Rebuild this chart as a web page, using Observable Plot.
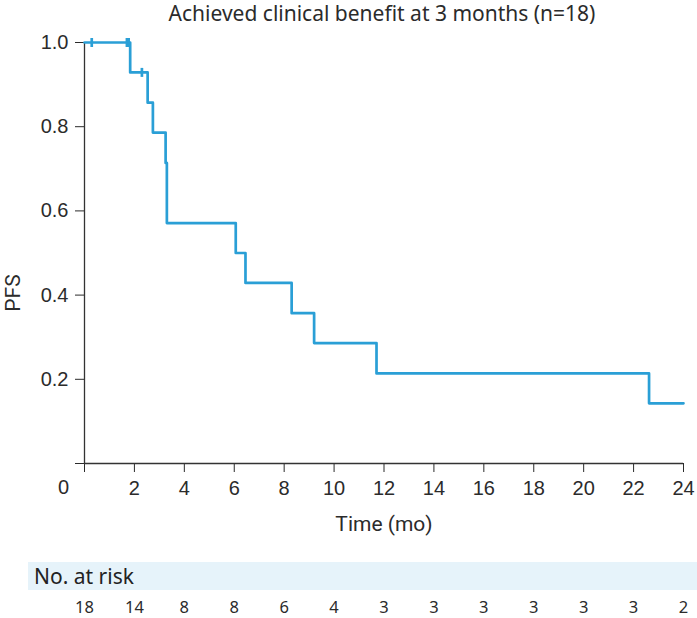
<!DOCTYPE html>
<html><head><meta charset="utf-8">
<script src="https://cdn.jsdelivr.net/npm/d3@7"></script>
<script src="https://cdn.jsdelivr.net/npm/@observablehq/plot@0.6"></script>
<style>
body{margin:0;background:#fff;overflow:hidden;}
#wrap{position:relative;width:697px;height:618px;}
#band{position:absolute;left:28px;top:562px;width:669px;height:28px;background:#e6f3fa;font-family:"Noto Sans";font-size:21px;color:#222;line-height:28px;padding-left:6px;box-sizing:border-box;}
</style></head><body><div id="wrap"><div id="band">No. at risk</div></div>
<script>
const chartTitle = "Achieved clinical benefit at 3 months (n=18)";
const xLabel = "Time (mo)";
const yLabel = "PFS";
// Kaplan-Meier step points
const times = [0, 1.83, 2.53, 2.74, 3.25, 3.30, 6.06, 6.45, 8.30, 9.20, 11.70, 22.62, 24];
const survival = [1.0, 0.929, 0.857, 0.786, 0.714, 0.571, 0.5, 0.429, 0.357, 0.286, 0.214, 0.143, 0.143];
// censored observations
const censorTimes = [0.29, 1.70, 1.77, 2.30];
const censorSurvival = [1.0, 1.0, 1.0, 0.929];
// number at risk table
const riskTimes = [0, 2, 4, 6, 8, 10, 12, 14, 16, 18, 20, 22, 24];
const atRisk = [18, 14, 8, 8, 6, 4, 3, 3, 3, 3, 3, 3, 2];
const xTicks = [0, 2, 4, 6, 8, 10, 12, 14, 16, 18, 20, 22, 24];
const yTicks = [0, 0.2, 0.4, 0.6, 0.8, 1.0];

const blue = "#2a9fd6";
const km = times.map((t, i) => ({t, s: survival[i]}));
const cens = censorTimes.map((t, i) => ({t, s: censorSurvival[i]}));
const vbar = {draw(ctx) { ctx.moveTo(0, -4.5); ctx.lineTo(0, 4.5); }};
const humanist = "Noto Sans";

const plot = Plot.plot({
  width: 697,
  height: 618,
  marginTop: 42,
  marginBottom: 155,
  marginLeft: 84,
  marginRight: 14,
  style: {fontSize: "20px", fontFamily: "'Liberation Sans', Arial, sans-serif", color: "#2b2b2b", background: "transparent"},
  x: {domain: [0, 24], ticks: xTicks, tickSize: 9, tickPadding: 8, tickFormat: d => d === 0 ? "" : String(d), label: null},
  y: {domain: [0, 1], ticks: yTicks, tickSize: 9, tickPadding: 7, tickFormat: d => d === 0 ? "" : d.toFixed(1), label: null},
  marks: [
    Plot.ruleY([0], {stroke: "#333", strokeWidth: 1.3}),
    Plot.ruleX([0], {stroke: "#333", strokeWidth: 1.3}),
    Plot.line(km, {x: "t", y: "s", curve: "step-after", stroke: blue, strokeWidth: 2.7}),
    Plot.dot(cens, {x: "t", y: "s", symbol: vbar, fill: "none", stroke: blue, strokeWidth: 2.7}),
    Plot.text(["0"], {x: () => 0, frameAnchor: "bottom", lineAnchor: "middle", textAnchor: "middle", dx: -21, dy: 24, fontSize: 20}),
    Plot.text([chartTitle], {frameAnchor: "top", lineAnchor: "middle", textAnchor: "middle", dx: -2, dy: -28, fontSize: 21, fontFamily: humanist}),
    Plot.text([xLabel], {frameAnchor: "bottom", lineAnchor: "middle", textAnchor: "middle", dy: 61, fontSize: 21, fontFamily: "Roboto"}),
    Plot.text([yLabel], {frameAnchor: "left", lineAnchor: "middle", textAnchor: "middle", rotate: -90, dx: -71, dy: 40, fontSize: 21, fontFamily: "Roboto"}),
    Plot.text(riskTimes, {x: d => d, text: (d, i) => String(atRisk[i]), frameAnchor: "bottom", lineAnchor: "middle", textAnchor: "middle", dy: 144, fontSize: 16.5, fontFamily: humanist})
  ]
});
document.getElementById("wrap").appendChild(plot);
</script>
</body></html>
